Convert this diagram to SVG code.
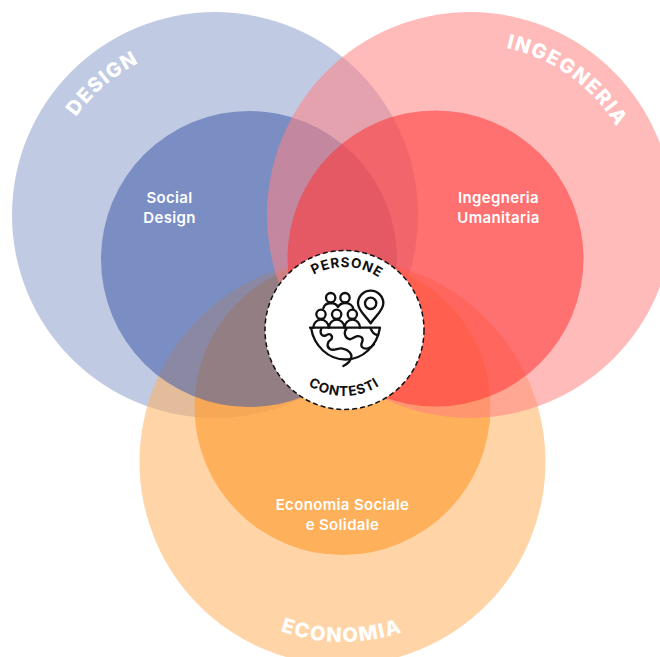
<svg xmlns="http://www.w3.org/2000/svg" width="660" height="657" viewBox="0 0 660 657">
<style>
.lbl{font-family:Inter,"Liberation Sans",Arial,sans-serif;font-weight:800;fill:#fff}
.big{font-size:20px;letter-spacing:1.500px}
.mid{font-family:Inter,"Liberation Sans",Arial,sans-serif;font-weight:600;fill:#fff;font-size:15px;letter-spacing:.35px;text-anchor:middle}
.ctr{font-family:Inter,"Liberation Sans",Arial,sans-serif;font-weight:700;font-size:13.500px;fill:#111;letter-spacing:.8px}
.ic{fill:none;stroke:#111;stroke-width:7;stroke-linecap:round;stroke-linejoin:round}
</style>
<defs>
<path id="pD" d="M45.4 203.1A170 170 0 0 1 226.9 45.4"/>
<path id="pI" d="M428.6 49.1A171 171 0 0 1 640.6 203.1"/>
<path id="pE" d="M215.2 589.3A180 180 0 0 0 469.8 589.3"/>
<path id="pP" d="M281 330A63 63 0 0 1 407 330"/>
<path id="pC" d="M278 330A66 66 0 0 0 410 330"/>
</defs>
<rect width="660" height="657" fill="#fff"/>
<g id="design-outer"><circle cx="215" cy="215" r="203" fill="#3f5aa9" opacity=".32"/></g>
<g id="economia">
<circle cx="342.500" cy="462" r="203" fill="#ffb261" opacity=".55"/>
<circle cx="342.500" cy="407" r="148" fill="#ffa03b" opacity=".7"/>
</g>
<g id="design-inner"><circle cx="249" cy="259" r="148" fill="#3f5aa9" opacity=".54"/></g>
<g id="ingegneria">
<circle cx="470" cy="215" r="203" fill="#ff8282" opacity=".55"/>
<circle cx="435.500" cy="258.500" r="148" fill="#ff3333" opacity=".55"/>
</g>
<g id="labels">
<text class="lbl big" text-anchor="middle"><textPath href="#pD" startOffset="50.500%">DESIGN</textPath></text>
<text class="lbl big" text-anchor="middle"><textPath href="#pI" startOffset="49.800%">INGEGNERIA</textPath></text>
<text class="lbl big" text-anchor="middle"><textPath href="#pE" startOffset="49.700%">ECONOMIA</textPath></text>
<text class="mid" x="169.500" y="203">Social</text>
<text class="mid" x="169.500" y="223">Design</text>
<text class="mid" x="498.500" y="203">Ingegneria</text>
<text class="mid" x="498.500" y="223">Umanitaria</text>
<text class="mid" x="342.500" y="510">Economia Sociale</text>
<text class="mid" x="342.500" y="530">e Solidale</text>
</g>
<g id="persone-contesti">
<circle cx="344.500" cy="330" r="79.500" fill="#fff" stroke="#111" stroke-width="1.500" stroke-dasharray="5 3"/>
<text class="ctr" text-anchor="middle"><textPath href="#pP" startOffset="51.500%">PERSONE</textPath></text>
<text class="ctr" text-anchor="middle"><textPath href="#pC" startOffset="50%">CONTESTI</textPath></text>
<g transform="translate(300 285) scale(.3333)">
<path class="ic" d="M30 128H240M33 128A105 115 0 0 0 240 128"/>
<circle class="ic" cx="92" cy="38" r="14"/><circle class="ic" cx="135" cy="38" r="14"/>
<circle class="ic" cx="63" cy="88" r="14"/><circle class="ic" cx="110" cy="88" r="14"/><circle class="ic" cx="157" cy="88" r="14"/>
<path class="ic" d="M40 128A23 24 0 0 1 86 128M87 128A23 24 0 0 1 133 128M134 128A23 24 0 0 1 180 128M70 70A24 20 0 0 1 92 54A24 20 0 0 1 114 66A24 20 0 0 1 135 54A24 20 0 0 1 160 72"/>
<path class="ic" d="M212 115C200 95 174 78 174 55A38 38 0 0 1 250 55C250 78 224 95 212 115Z"/>
<circle class="ic" cx="212" cy="55" r="17"/>
<path class="ic" d="M64 130C58 145 66 156 78 151C90 142 100 152 94 163C82 170 78 185 90 192C102 200 116 186 128 191C146 194 160 208 152 222C148 232 140 238 130 243M140 130C130 142 134 160 150 163C162 160 172 146 186 158C194 168 178 176 186 186C196 196 212 190 222 178M212 130C216 142 224 148 232 150"/>
</g>
</g>
</svg>
